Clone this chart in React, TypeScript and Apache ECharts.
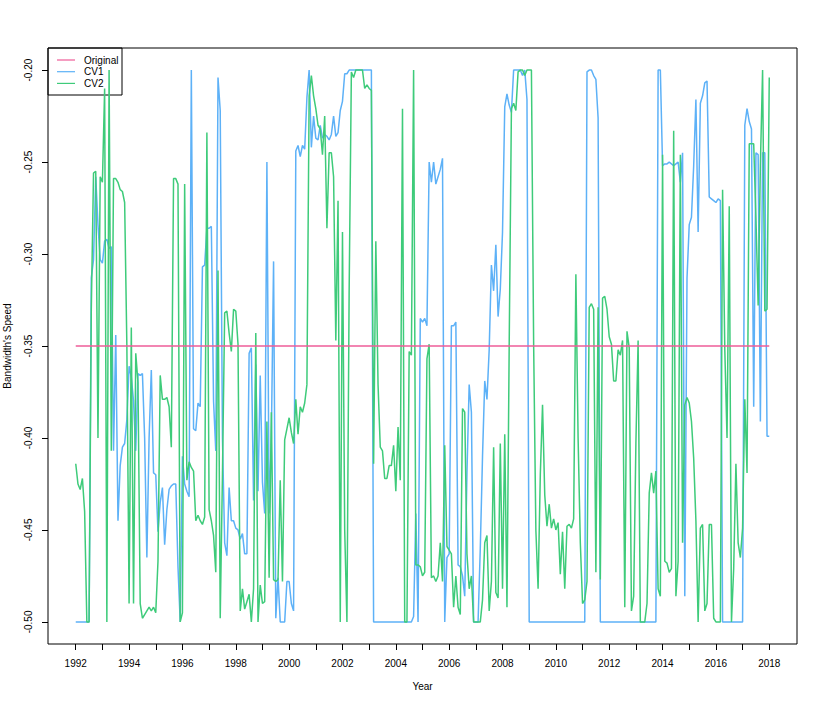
import React, { useEffect, useRef } from "react";
import * as echarts from "echarts";

// Monthly observations starting January 1992
const START_YEAR = 1992;

const cv1: number[] = [
  -0.5, -0.5, -0.5, -0.5, -0.5, -0.5, -0.5, -0.313, -0.303, -0.258,
  -0.284, -0.303, -0.305, -0.293, -0.292, -0.297, -0.296, -0.407, -0.344, -0.445,
  -0.415, -0.405, -0.403, -0.39, -0.361, -0.367, -0.38, -0.407, -0.365, -0.366,
  -0.365, -0.4, -0.465, -0.4, -0.363, -0.419, -0.42, -0.451, -0.435, -0.427,
  -0.458, -0.439, -0.428, -0.426, -0.425, -0.425, -0.47, -0.5, -0.41, -0.425,
  -0.429, -0.432, -0.2, -0.395, -0.396, -0.381, -0.383, -0.307, -0.306, -0.286,
  -0.286, -0.285, -0.38, -0.407, -0.204, -0.222, -0.4, -0.457, -0.464, -0.427,
  -0.445, -0.445, -0.449, -0.45, -0.455, -0.452, -0.463, -0.463, -0.354, -0.351,
  -0.434, -0.36, -0.429, -0.366, -0.424, -0.441, -0.25, -0.441, -0.4, -0.304,
  -0.498, -0.476, -0.5, -0.5, -0.5, -0.478, -0.478, -0.49, -0.494, -0.244,
  -0.241, -0.247, -0.241, -0.243, -0.215, -0.2, -0.242, -0.225, -0.237, -0.238,
  -0.23, -0.237, -0.235, -0.236, -0.238, -0.235, -0.225, -0.236, -0.234, -0.222,
  -0.217, -0.202, -0.202, -0.2, -0.2, -0.2, -0.2, -0.2, -0.2, -0.2,
  -0.2, -0.2, -0.2, -0.2, -0.5, -0.5, -0.5, -0.5, -0.5, -0.5,
  -0.5, -0.5, -0.5, -0.5, -0.5, -0.5, -0.5, -0.5, -0.5, -0.5,
  -0.5, -0.5, -0.497, -0.441, -0.5, -0.335, -0.337, -0.335, -0.339, -0.25,
  -0.261, -0.25, -0.262, -0.258, -0.254, -0.248, -0.5, -0.465, -0.463, -0.339,
  -0.339, -0.337, -0.469, -0.47, -0.475, -0.486, -0.419, -0.371, -0.386, -0.5,
  -0.5, -0.5, -0.46, -0.41, -0.369, -0.379, -0.352, -0.306, -0.32, -0.295,
  -0.334, -0.319, -0.288, -0.22, -0.213, -0.219, -0.223, -0.2, -0.2, -0.2,
  -0.2, -0.203, -0.2, -0.216, -0.5, -0.5, -0.5, -0.5, -0.5, -0.5,
  -0.5, -0.5, -0.5, -0.5, -0.5, -0.5, -0.5, -0.5, -0.5, -0.5,
  -0.5, -0.5, -0.5, -0.5, -0.5, -0.5, -0.5, -0.5, -0.5, -0.5,
  -0.201, -0.2, -0.2, -0.203, -0.205, -0.226, -0.5, -0.5, -0.5, -0.5,
  -0.5, -0.5, -0.5, -0.5, -0.5, -0.5, -0.5, -0.5, -0.5, -0.5,
  -0.5, -0.5, -0.5, -0.5, -0.5, -0.5, -0.5, -0.5, -0.5, -0.5,
  -0.5, -0.5, -0.2, -0.2, -0.252, -0.251, -0.251, -0.25, -0.251, -0.252,
  -0.251, -0.25, -0.261, -0.245, -0.486, -0.313, -0.284, -0.28, -0.252, -0.216,
  -0.288, -0.218, -0.214, -0.207, -0.206, -0.269, -0.27, -0.271, -0.272, -0.27,
  -0.271, -0.5, -0.5, -0.5, -0.5, -0.5, -0.5, -0.5, -0.5, -0.5,
  -0.5, -0.23, -0.221, -0.228, -0.232, -0.383, -0.245, -0.246, -0.391, -0.245,
  -0.245, -0.399, -0.399,
];

const cv2: number[] = [
  -0.414, -0.425, -0.428, -0.422, -0.44, -0.5, -0.5, -0.33, -0.256, -0.255,
  -0.4, -0.258, -0.261, -0.21, -0.5, -0.2, -0.407, -0.259, -0.259, -0.261,
  -0.265, -0.266, -0.272, -0.35, -0.49, -0.34, -0.49, -0.354, -0.37, -0.49,
  -0.498, -0.496, -0.494, -0.492, -0.494, -0.492, -0.495, -0.467, -0.366, -0.379,
  -0.379, -0.378, -0.383, -0.405, -0.259, -0.259, -0.262, -0.5, -0.495, -0.262,
  -0.423, -0.413, -0.416, -0.418, -0.445, -0.442, -0.445, -0.447, -0.443, -0.234,
  -0.439, -0.445, -0.453, -0.473, -0.309, -0.498, -0.42, -0.332, -0.331, -0.343,
  -0.353, -0.33, -0.331, -0.349, -0.494, -0.482, -0.493, -0.489, -0.485, -0.5,
  -0.482, -0.343, -0.5, -0.48, -0.49, -0.489, -0.391, -0.476, -0.386, -0.477,
  -0.478, -0.477, -0.423, -0.478, -0.401, -0.395, -0.389, -0.397, -0.403, -0.379,
  -0.398, -0.383, -0.386, -0.381, -0.371, -0.214, -0.203, -0.214, -0.221, -0.23,
  -0.232, -0.246, -0.225, -0.286, -0.245, -0.245, -0.258, -0.347, -0.271, -0.5,
  -0.288, -0.45, -0.5, -0.32, -0.201, -0.204, -0.2, -0.2, -0.2, -0.2,
  -0.21, -0.208, -0.21, -0.211, -0.414, -0.293, -0.371, -0.405, -0.407, -0.422,
  -0.422, -0.415, -0.415, -0.404, -0.429, -0.394, -0.423, -0.221, -0.5, -0.5,
  -0.353, -0.355, -0.2, -0.469, -0.469, -0.47, -0.475, -0.473, -0.357, -0.349,
  -0.476, -0.475, -0.478, -0.475, -0.457, -0.478, -0.404, -0.459, -0.461, -0.463,
  -0.492, -0.475, -0.492, -0.496, -0.384, -0.386, -0.463, -0.482, -0.475, -0.5,
  -0.5, -0.5, -0.5, -0.488, -0.457, -0.453, -0.494, -0.478, -0.405, -0.484,
  -0.487, -0.403, -0.482, -0.398, -0.492, -0.35, -0.221, -0.218, -0.222, -0.201,
  -0.2, -0.2, -0.203, -0.2, -0.2, -0.2, -0.349, -0.45, -0.482, -0.42,
  -0.382, -0.431, -0.448, -0.436, -0.449, -0.444, -0.45, -0.446, -0.474, -0.451,
  -0.482, -0.448, -0.447, -0.449, -0.444, -0.311, -0.4, -0.457, -0.49, -0.488,
  -0.478, -0.329, -0.327, -0.33, -0.473, -0.329, -0.477, -0.324, -0.323, -0.33,
  -0.345, -0.349, -0.369, -0.369, -0.352, -0.355, -0.347, -0.492, -0.342, -0.351,
  -0.494, -0.486, -0.403, -0.347, -0.5, -0.5, -0.5, -0.49, -0.43, -0.419,
  -0.43, -0.418, -0.482, -0.486, -0.246, -0.467, -0.468, -0.473, -0.471, -0.233,
  -0.486, -0.467, -0.246, -0.457, -0.382, -0.378, -0.381, -0.391, -0.411, -0.445,
  -0.5, -0.449, -0.447, -0.494, -0.49, -0.447, -0.447, -0.498, -0.5, -0.5,
  -0.5, -0.265, -0.352, -0.4, -0.274, -0.5, -0.471, -0.414, -0.457, -0.465,
  -0.449, -0.379, -0.419, -0.24, -0.24, -0.24, -0.28, -0.328, -0.252, -0.2,
  -0.331, -0.33, -0.204,
];

const originalYears: number[] = [1992, 2018];
const originalValues: number[] = [-0.35, -0.35];

const xTickYears: number[] = [
  1992, 1993, 1994, 1995, 1996, 1997, 1998, 1999, 2000, 2001, 2002, 2003, 2004,
  2005, 2006, 2007, 2008, 2009, 2010, 2011, 2012, 2013, 2014, 2015, 2016, 2017, 2018,
];
const xLabelYears: number[] = [
  1992, 1994, 1996, 1998, 2000, 2002, 2004, 2006, 2008, 2010, 2012, 2014, 2016, 2018,
];
const yTicks: number[] = [-0.5, -0.45, -0.4, -0.35, -0.3, -0.25, -0.2];

const seriesNames = ["Original", "CV1", "CV2"];
const COLORS = { Original: "#EE5C98", CV1: "#5DB1F7", CV2: "#3ECB7A" };
const FONT = "'Liberation Sans', Arial, Helvetica, sans-serif";

const toPairs = (vals: number[]) => vals.map((v, i) => [START_YEAR + i / 12, v]);

export default function App() {
  const ref = useRef<HTMLDivElement>(null);
  useEffect(() => {
    if (!ref.current) return;
    const chart = echarts.init(ref.current, null, { renderer: "svg" });
    const legendItems: any[] = [];
    seriesNames.forEach((name, i) => {
      const y = 60 + i * 11.7;
      legendItems.push({
        type: "line",
        shape: { x1: 57, y1: y, x2: 75, y2: y },
        style: { stroke: (COLORS as any)[name], lineWidth: 1.2 },
      });
      legendItems.push({
        type: "text",
        x: 84,
        y: y,
        style: {
          text: name,
          fill: "#000",
          fontSize: 10,
          fontFamily: FONT,
          verticalAlign: "middle",
          align: "left",
        },
      });
    });
    chart.setOption({
      animation: false,
      backgroundColor: "#fff",
      grid: {
        left: 48,
        right: 25,
        top: 48,
        bottom: 61,
        show: true,
        borderColor: "#000",
        borderWidth: 1,
        backgroundColor: "transparent",
        containLabel: false,
        outerBoundsMode: "none",
      },
      xAxis: {
        type: "value",
        min: 1990.96,
        max: 2019.04,
        axisLine: { show: false },
        splitLine: { show: false },
        axisTick: {
          show: true,
          inside: false,
          length: 6,
          customValues: xTickYears,
          lineStyle: { color: "#000", width: 1 },
        },
        axisLabel: {
          customValues: xLabelYears,
          margin: 14,
          color: "#000",
          fontSize: 10,
          fontFamily: FONT,
          formatter: (v: number) => String(Math.round(v)),
        },
        name: "Year",
        nameLocation: "middle",
        nameGap: 37,
        nameTextStyle: { color: "#000", fontSize: 10, fontFamily: FONT },
      },
      yAxis: {
        type: "value",
        min: -0.512,
        max: -0.188,
        axisLine: { show: false },
        splitLine: { show: false },
        axisTick: {
          show: true,
          inside: false,
          length: 6,
          customValues: yTicks,
          lineStyle: { color: "#000", width: 1 },
        },
        axisLabel: {
          customValues: yTicks,
          rotate: 90,
          margin: 15,
          color: "#000",
          fontSize: 10,
          fontFamily: FONT,
          formatter: (v: number) => v.toFixed(2),
        },
        name: "Bandwidth's Speed",
        nameLocation: "middle",
        nameGap: 36,
        nameTextStyle: { color: "#000", fontSize: 10, fontFamily: FONT },
      },
      series: [
        {
          name: "CV1",
          type: "line",
          data: toPairs(cv1),
          showSymbol: false,
          symbol: "none",
          lineStyle: { color: COLORS.CV1, width: 1.5 },
          z: 2,
        },
        {
          name: "CV2",
          type: "line",
          data: toPairs(cv2),
          showSymbol: false,
          symbol: "none",
          lineStyle: { color: COLORS.CV2, width: 1.5 },
          z: 3,
        },
        {
          name: "Original",
          type: "line",
          data: originalYears.map((yr, i) => [yr, originalValues[i]]),
          showSymbol: false,
          symbol: "none",
          lineStyle: { color: COLORS.Original, width: 1.5 },
          z: 4,
        },
      ],
      graphic: [
        {
          type: "group",
          z: 100,
          children: [
            {
              type: "rect",
              shape: { x: 48, y: 48, width: 74, height: 47 },
              style: { fill: "transparent", stroke: "#000", lineWidth: 1 },
            },
            ...legendItems,
          ],
        },
      ],
    });
    return () => chart.dispose();
  }, []);
  return (
    <div
      ref={ref}
      style={{ position: "absolute", left: 0, top: 0, width: 822, height: 705 }}
    />
  );
}
